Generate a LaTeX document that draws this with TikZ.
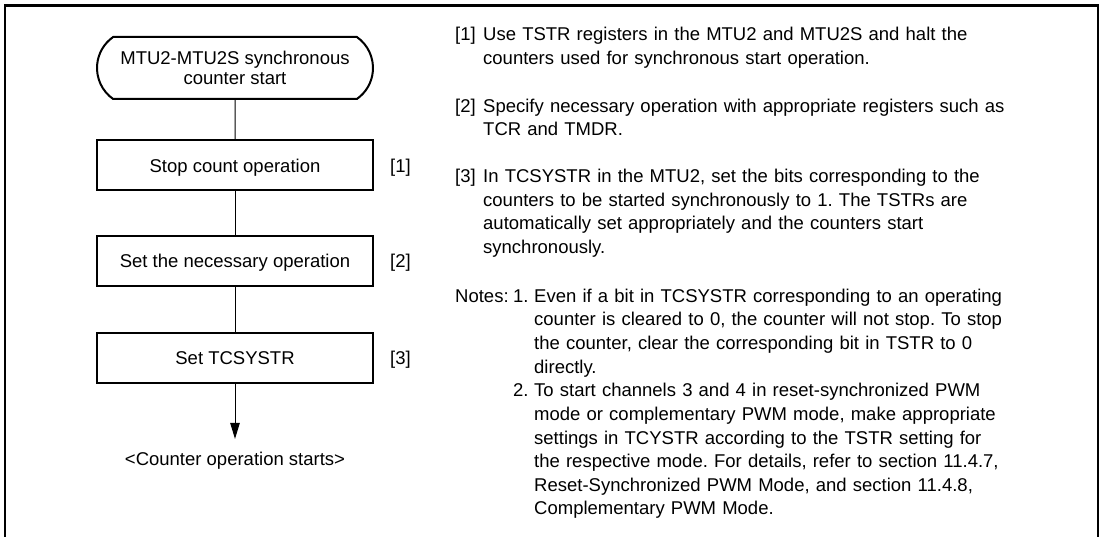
\documentclass[tikz,border=0pt]{standalone}
\usepackage{fontspec}
\setmainfont{Liberation Sans}
\usetikzlibrary{positioning,shapes.misc,arrows.meta}
\frenchspacing

\begin{document}
\begin{tikzpicture}[x=1pt, y=-1pt,
    font=\fontsize{18.5}{23.6}\selectfont,
    termbox/.style={draw, line width=2pt, rounded rectangle, rounded rectangle arc length=110,
        minimum width=276pt, minimum height=62pt, inner sep=0pt, align=center,
        font=\fontsize{18.5}{20.5}\selectfont},
    procbox/.style={draw, line width=2pt, minimum width=276pt, minimum height=50pt,
        inner sep=0pt, text depth=0pt},
    tag/.style={inner sep=0pt, text depth=0pt},
    note/.style={anchor=base west, inner sep=0pt, text width=600pt, align=left},
    flow/.style={line width=1pt},
]
    \useasboundingbox (0,0) rectangle (1101,537);
    \draw[line width=2.4pt] (5,537) -- (5,5.5) -- (1098,5.5) -- (1098,537);

    % flow chart
    \node[termbox] (start) at (235,68) {MTU2-MTU2S synchronous\\counter start};
    \node[procbox] (stop) at (235,165.5) {Stop count operation};
    \node[procbox] (setop) at (235,261) {Set the necessary operation};
    \node[procbox] (setsys) at (235,358) {Set TCSYSTR};
    \node[anchor=base, inner sep=0pt] (done) at (235,465) {<Counter operation starts>};
    \node[tag, right=16pt of stop] (tag1) {[1]};
    \node[tag, right=16pt of setop] (tag2) {[2]};
    \node[tag, right=16pt of setsys] (tag3) {[3]};
    \draw[flow] (start) -- (stop);
    \draw[flow] (stop) -- (setop);
    \draw[flow] (setop) -- (setsys);
    \draw[flow, -{Triangle[length=16pt, width=9.5pt]}, shorten >=12.5pt] (setsys) -- (done);

    % explanations
    \node[note] (num1) at (455,40.7) {[1]};
    \node[note] (txt1) at (483,40.7) {Use TSTR registers in the MTU2 and MTU2S and halt the\\
        counters used for synchronous start operation.};
    \node[note] (num2) at (455,112.3) {[2]};
    \node[note] (txt2) at (483,112.3) {Specify necessary operation with appropriate registers such as\\
        TCR and TMDR.};
    \node[note] (num3) at (455,182.5) {[3]};
    \node[note] (txt3) at (483,182.5) {In TCSYSTR in the MTU2, set the bits corresponding to the\\
        counters to be started synchronously to 1. The TSTRs are\\
        automatically set appropriately and the counters start\\
        synchronously.};
    \node[note] (notes) at (455,302.3) {Notes:};
    \node[note] (nn1) at (513,302.3) {1.};
    \node[note] (nt1) at (534,302.3) {Even if a bit in TCSYSTR corresponding to an operating\\
        counter is cleared to 0, the counter will not stop. To stop\\
        the counter, clear the corresponding bit in TSTR to 0\\
        directly.};
    \node[note] (nn2) at (513,397) {2.};
    \node[note] (nt2) at (534,397) {To start channels 3 and 4 in reset-synchronized PWM\\
        mode or complementary PWM mode, make appropriate\\
        settings in TCYSTR according to the TSTR setting for\\
        the respective mode. For details, refer to section 11.4.7,\\
        Reset-Synchronized PWM Mode, and section 11.4.8,\\
        Complementary PWM Mode.};
\end{tikzpicture}
\end{document}
